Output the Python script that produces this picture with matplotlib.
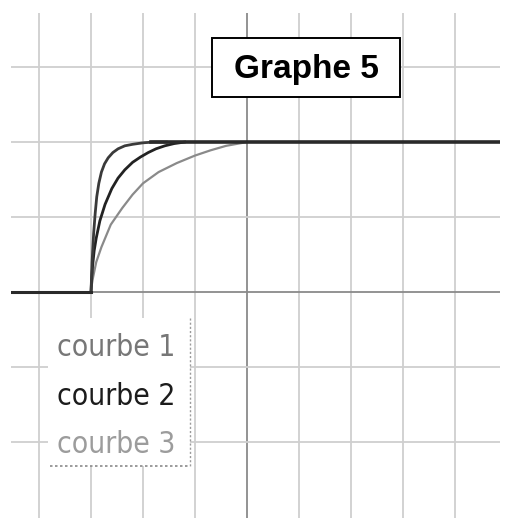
import matplotlib
matplotlib.use("Agg")
import matplotlib.pyplot as plt
from matplotlib.patches import Rectangle

# grid units: one column = 1, one row = 1; origin at the darker axes
grid_x = [-4, -3, -2, -1, 0, 1, 2, 3, 4]
grid_y = [-2, -1, 0, 1, 2, 3]
x_min, x_max = -4.54, 4.87
y_min, y_max = -3.01, 3.72

step_x = -3.0
final_level = 2.0

# time after the step (columns) and level (rows)
t1 = [0, 0.02, 0.05, 0.08, 0.11, 0.15, 0.2, 0.26, 0.33, 0.42, 0.52, 0.65, 0.8, 1.0, 1.2, 1.45]
y1 = [0, 0.4, 0.78, 1.05, 1.27, 1.45, 1.6, 1.71, 1.79, 1.86, 1.91, 1.95, 1.97, 1.99, 2.0, 2.0]

t2 = [0, 0.01, 0.03, 0.06, 0.1, 0.17, 0.27, 0.4, 0.52, 0.65, 0.8, 0.95, 1.1, 1.25, 1.42, 1.6, 1.8]
y2 = [0, 0.15, 0.35, 0.55, 0.72, 0.95, 1.17, 1.38, 1.52, 1.63, 1.73, 1.8, 1.86, 1.91, 1.95, 1.98, 2.0]

t3 = [0, 0.01, 0.04, 0.1, 0.2, 0.38, 0.6, 0.8, 1.0, 1.3, 1.65, 2.0, 2.3, 2.6, 3.0]
y3 = [0, 0.08, 0.2, 0.4, 0.6, 0.9, 1.12, 1.3, 1.45, 1.6, 1.72, 1.82, 1.89, 1.95, 2.0]

labels = ["courbe 1", "courbe 2", "courbe 3"]
label_colors = ["#777777", "#1c1c1c", "#9c9c9c"]
title = "Graphe 5"

W, H = 509, 518
fig = plt.figure(figsize=(W / 100, H / 100), dpi=100)
fig.patch.set_facecolor("white")
ax = fig.add_axes([11 / W, 0, (500 - 11) / W, (518 - 13) / H])
ax.set_xlim(x_min, x_max)
ax.set_ylim(y_min, y_max)
ax.axis("off")

for gx in grid_x:
    c = "#8a8a8a" if gx == 0 else "#cfcfcf"
    ax.axvline(gx, color=c, lw=1.3, zorder=1)
for gy in grid_y:
    c = "#8a8a8a" if gy == 0 else "#cfcfcf"
    ax.axhline(gy, color=c, lw=1.3, zorder=1)

ax.plot([step_x + t for t in t3], y3, color="#8a8a8a", lw=1.6, zorder=3)
ax.plot([step_x + t for t in t2], y2, color="#222222", lw=2.0, zorder=4)
ax.plot([step_x + t for t in t1], y1, color="#3a3a3a", lw=2.0, zorder=4)

# flat parts before and after the step
ax.plot([x_min, step_x], [0, 0], color="#2a2a2a", lw=2.2, zorder=5)
ax.plot([step_x + t1[-1] - 0.3, x_max], [final_level, final_level],
        color="#2a2a2a", lw=2.6, zorder=5)

# title box
fig.patches.append(Rectangle((212 / W, 1 - 97 / H), 188 / W, 59 / H,
                             transform=fig.transFigure, facecolor="white",
                             edgecolor="black", lw=1.4, zorder=10))
fig.text(306 / W, 1 - 69 / H, title, ha="center", va="center",
         fontsize=24, fontweight="bold", family=["Liberation Sans", "DejaVu Sans"],
         zorder=11)

# legend box, dotted on right and bottom
fig.patches.append(Rectangle((48 / W, 1 - 466 / H), 142 / W, 148 / H,
                             transform=fig.transFigure, facecolor="white",
                             edgecolor="none", zorder=10))
fig.lines.append(plt.Line2D([190 / W, 190 / W], [1 - 318 / H, 1 - 466 / H],
                            transform=fig.transFigure, color="#9a9a9a",
                            lw=1.0, ls=(0, (1.5, 1.5)), zorder=11))
fig.lines.append(plt.Line2D([50 / W, 190 / W], [1 - 466 / H, 1 - 466 / H],
                            transform=fig.transFigure, color="#8a8a8a",
                            lw=1.2, ls=(0, (1.5, 1.5)), zorder=11))
baselines = [356, 405, 453]
for lab, col, by in zip(labels, label_colors, baselines):
    fig.text(57 / W, 1 - by / H, lab, ha="left", va="baseline", color=col,
             fontsize=21.5, fontstretch="condensed",
             family=["DejaVu Sans", "Roboto"], zorder=12)

fig.savefig("out.png", dpi=100, facecolor="white")
